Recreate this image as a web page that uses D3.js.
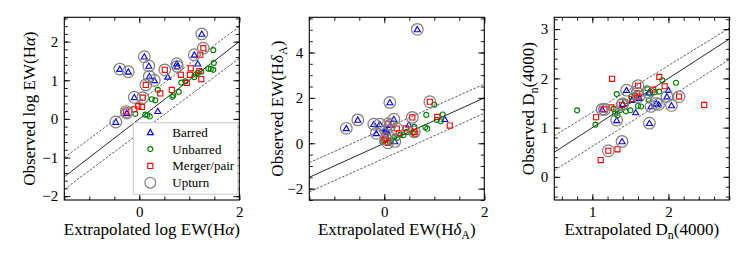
<!DOCTYPE html>
<html>
<head>
<meta charset="utf-8">
<script src="https://cdn.jsdelivr.net/npm/d3@7"></script>
<style>
body { margin: 0; background: #fff; }
svg { font-family: "Liberation Serif", "DejaVu Serif", serif; }
</style>
</head>
<body>
<div id="chart"></div>
<script>
// each point: [extrapolated, observed, upturn flag]
var haBarred = [[1.25,2.20,1],[-0.47,-0.08,1],[-0.39,1.29,1],[-0.22,1.22,1],[0.10,1.61,1],[0.19,1.37,1],
    [0.20,1.10,1],[0.30,1.00,1],[-0.10,0.56,1],[-0.25,0.15,1],[0.37,0.20,0],[0.57,1.09,0],
    [0.75,1.43,1],[0.76,1.36,1],[1.10,1.66,1],[1.17,1.43,0]];
var haUnbarred = [[1.48,1.78,0],[1.49,1.45,0],[1.48,1.27,0],[1.38,1.30,0],[1.43,1.29,0],[1.24,1.22,0],
    [1.17,1.19,0],[1.10,1.08,0],[1.13,1.15,0],[0.92,0.97,0],[0.84,0.94,0],[0.79,0.70,0],[0.68,0.61,0],
    [0.66,0.57,0],[0.37,0.75,0],[0.25,0.51,0],[0.32,0.48,0],[0.12,0.11,0],[0.16,0.10,0],[0.21,0.06,0],
    [-0.08,0.13,0]];
var haMerger = [[1.28,1.83,1],[1.22,1.66,0],[0.51,1.27,1],[0.13,0.88,1],[0.07,0.55,1],[0.42,0.66,0],
    [0.65,0.75,0],[0.83,1.14,0],[0.95,0.93,0],[1.03,1.31,0],[1.01,1.14,0],[1.20,1.24,0],[1.24,1.03,0],
    [-0.10,0.25,0],[-0.02,0.33,0],[0.05,0.31,0],[-0.26,0.19,1]];

var hdBarred = [[0.66,5.02,1],[0.11,1.80,1],[-0.76,0.66,1],[-0.53,1.03,1],[-0.21,0.84,1],[-0.09,0.84,1],
    [0.19,1.06,1],[0.03,0.56,1],[-0.16,0.44,1],[0.06,0.50,0],[0.21,0.08,1],[0.49,0.82,0],[1.21,1.06,0],
    [0.12,0.80,1],[0.02,0.65,0]];
var hdUnbarred = [[1.00,1.70,0],[1.17,1.27,0],[0.84,1.25,0],[1.05,1.03,0],[1.13,0.97,0],[0.82,0.70,0],
    [0.86,0.64,0],[0.60,0.72,0],[0.45,0.50,0],[0.38,0.35,0],[0.20,0.29,0],[0.11,0.06,0],[0.14,0.14,0],
    [-0.04,0.07,0],[0.26,0.24,0],[0.57,0.46,0],[0.32,0.38,0]];
var hdMerger = [[0.91,1.83,1],[0.56,1.14,1],[1.06,1.16,0],[1.31,0.78,0],[0.08,0.86,1],[0.25,0.65,1],
    [0.43,0.66,0],[0.60,0.50,1],[0.62,0.42,0],[0.03,0.20,1],[0.00,0.15,0],[0.07,0.02,1],[0.29,0.44,0],
    [0.02,0.33,0]];

var dnBarred = [[1.45,1.76,1],[1.13,1.37,1],[1.32,1.15,1],[1.39,0.72,1],[1.75,1.09,1],[1.57,1.31,0],
    [1.77,1.43,1],[1.84,1.49,1],[1.87,1.47,1],[2.04,1.45,1],[1.98,1.63,1],[2.00,1.76,0],[1.74,1.71,1],
    [1.62,1.60,0],[1.52,1.56,0],[1.40,1.48,1]];
var dnUnbarred = [[0.80,1.35,0],[1.04,1.06,0],[1.32,1.68,0],[2.10,1.91,0],[1.92,1.96,0],[1.72,1.80,0],
    [1.88,1.73,0],[1.51,1.63,0],[1.43,1.53,0],[1.37,1.36,0],[1.44,1.33,0],[1.50,1.35,0],[1.28,1.38,0],
    [1.30,1.28,0],[1.64,1.43,0],[1.60,1.44,0],[1.56,1.66,0],[1.74,1.55,0],[1.76,1.69,0],[1.82,1.72,0],
    [1.33,1.25,0]];
var dnMerger = [[1.26,1.99,0],[1.88,2.03,0],[1.60,1.85,1],[1.80,1.77,0],[1.95,1.84,0],[2.14,1.63,1],
    [2.47,1.46,0],[1.59,1.70,1],[1.61,1.63,1],[1.52,1.58,0],[1.39,1.46,1],[1.25,1.41,0],[1.16,1.37,1],
    [1.05,1.21,0],[1.21,0.53,1],[1.33,0.56,0],[1.11,0.34,0]];

// one-to-one line and scatter band, as [slope, intercept]
var haLines = [[1, 0], [0.97, 0.45], [0.97, -0.37]];
var hdLines = [[1, 0], [0.99, 0.63], [0.99, -0.66]];
var dnLines = [[1, 0], [0.95, 0.36], [0.98, -0.36]];

var haXTicks = [0, 2], haYTicks = [-2, -1, 0, 1, 2];
var hdXTicks = [0, 2], hdYTicks = [-2, 0, 2, 4];
var dnXTicks = [1, 2], dnYTicks = [0, 1, 2, 3];

var legendLabels = ["Barred", "Unbarred", "Merger/pair", "Upturn"];

var W = 747, H = 264;
var pw = 175, ph = 182.7, panelTop = 17.3;

var svg = d3.select("#chart").append("svg")
    .attr("width", W)
    .attr("height", H);

var triangle = d3.symbol().type(d3.symbolTriangle).size(16);
var square = d3.symbol().type(d3.symbolSquare).size(26);

function minorTicks(domain, step) {
    var start = Math.ceil(domain[0] / step) * step;
    return d3.range(start, domain[1] + 1e-9, step).map(function(v) { return Math.round(v * 100) / 100; });
}

function styleAxis(sel) {
    sel.select(".domain").remove();
    sel.attr("font-family", null).attr("font-size", 15);
    sel.selectAll("line").attr("stroke", "#000").attr("stroke-width", 0.9);
    sel.selectAll("text").attr("fill", "#000");
}

function drawPanel(p) {
    var g = svg.append("g").attr("transform", "translate(" + p.left + "," + panelTop + ")");

    var x = d3.scaleLinear().domain(p.xDomain).range([0, pw]);
    var y = d3.scaleLinear().domain(p.yDomain).range([ph, 0]);
    var fmt = d3.format("d");
    var xMin = minorTicks(p.xDomain, p.xMinor), yMin = minorTicks(p.yDomain, p.yMinor);

    g.append("clipPath").attr("id", "clip" + p.id)
        .append("rect").attr("width", pw).attr("height", ph);

    // reference lines
    var lines = g.append("g").attr("clip-path", "url(#clip" + p.id + ")");
    p.lines.forEach(function(l, i) {
        lines.append("line")
            .attr("x1", x(p.xDomain[0])).attr("y1", y(l[0] * p.xDomain[0] + l[1]))
            .attr("x2", x(p.xDomain[1])).attr("y2", y(l[0] * p.xDomain[1] + l[1]))
            .attr("stroke", i == 0 ? "#111" : "#333")
            .attr("stroke-width", i == 0 ? 0.9 : 0.8)
            .attr("stroke-dasharray", i == 0 ? null : "2.5,1.5");
    });

    // axes, ticks pointing in
    g.append("g").attr("transform", "translate(0," + ph + ")")
        .call(d3.axisBottom(x).tickValues(xMin).tickSize(-3.5).tickFormat("")).call(styleAxis);
    g.append("g").attr("transform", "translate(0," + ph + ")")
        .call(d3.axisBottom(x).tickValues(p.xTicks).tickSize(-6).tickPadding(6).tickFormat(fmt)).call(styleAxis);
    g.append("g").call(d3.axisTop(x).tickValues(xMin).tickSize(-3.5).tickFormat("")).call(styleAxis);
    g.append("g").call(d3.axisTop(x).tickValues(p.xTicks).tickSize(-6).tickFormat("")).call(styleAxis);
    g.append("g").call(d3.axisLeft(y).tickValues(yMin).tickSize(-3.5).tickFormat("")).call(styleAxis);
    g.append("g").call(d3.axisLeft(y).tickValues(p.yTicks).tickSize(-6).tickPadding(6).tickFormat(fmt)).call(styleAxis);
    g.append("g").attr("transform", "translate(" + pw + ",0)")
        .call(d3.axisRight(y).tickValues(yMin).tickSize(-3.5).tickFormat("")).call(styleAxis);
    g.append("g").attr("transform", "translate(" + pw + ",0)")
        .call(d3.axisRight(y).tickValues(p.yTicks).tickSize(-6).tickFormat("")).call(styleAxis);

    g.append("rect")
        .attr("width", pw).attr("height", ph)
        .attr("fill", "none").attr("stroke", "#000").attr("stroke-width", 1.1);

    // points
    var pts = g.append("g").attr("clip-path", "url(#clip" + p.id + ")");
    pts.selectAll(".bar").data(p.barred).enter().append("path")
        .attr("d", triangle)
        .attr("transform", function(d) { return "translate(" + x(d[0]) + "," + (y(d[1]) + 0.6) + ")"; })
        .attr("fill", "none").attr("stroke", "#0000ff").attr("stroke-width", 1.1);
    pts.selectAll(".unb").data(p.unbarred).enter().append("circle")
        .attr("cx", function(d) { return x(d[0]); })
        .attr("cy", function(d) { return y(d[1]); })
        .attr("r", 2.5)
        .attr("fill", "none").attr("stroke", "#008000").attr("stroke-width", 1.1);
    pts.selectAll(".mrg").data(p.merger).enter().append("path")
        .attr("d", square)
        .attr("transform", function(d) { return "translate(" + x(d[0]) + "," + y(d[1]) + ")"; })
        .attr("fill", "none").attr("stroke", "#ff0000").attr("stroke-width", 1.1);

    var up = p.barred.concat(p.unbarred, p.merger).filter(function(d) { return d[2] == 1; });
    pts.selectAll(".up").data(up).enter().append("circle")
        .attr("cx", function(d) { return x(d[0]); })
        .attr("cy", function(d) { return y(d[1]); })
        .attr("r", 5.8)
        .attr("fill", "none").attr("stroke", "#808080").attr("stroke-width", 1.2);

    // axis labels
    var xl = svg.append("text")
        .attr("x", p.left + pw / 2).attr("y", 235)
        .attr("text-anchor", "middle").attr("font-size", 17);
    p.xLabel(xl);
    var yl = svg.append("text")
        .attr("transform", "translate(" + p.yLabelX + "," + (panelTop + ph / 2) + ") rotate(-90)")
        .attr("text-anchor", "middle").attr("font-size", 17);
    p.yLabel(yl);

    return {g: g, x: x, y: y};
}

function haLabel(prefix) {
    return function(t) {
        t.append("tspan").text(prefix + " log EW(H");
        t.append("tspan").attr("font-style", "italic").text("\u03b1");
        t.append("tspan").text(")");
    };
}
function hdLabel(prefix) {
    return function(t) {
        t.append("tspan").text(prefix + " EW(H");
        t.append("tspan").attr("font-style", "italic").text("\u03b4");
        t.append("tspan").attr("font-size", 12).attr("dy", 4).text("A");
        t.append("tspan").attr("dy", -4).text(")");
    };
}
function dnLabel(prefix) {
    return function(t) {
        t.append("tspan").text(prefix + " D");
        t.append("tspan").attr("font-size", 12).attr("dy", 4).text("n");
        t.append("tspan").attr("dy", -4).text("(4000)");
    };
}

var p1 = drawPanel({id: 1, left: 64.3, xDomain: [-1.5, 2], yDomain: [-2.1, 2.63],
    xTicks: haXTicks, yTicks: haYTicks, xMinor: 0.5, yMinor: 0.2,
    barred: haBarred, unbarred: haUnbarred, merger: haMerger, lines: haLines,
    xLabel: haLabel("Extrapolated"), yLabel: haLabel("Observed"), yLabelX: 34.5});
drawPanel({id: 2, left: 309.3, xDomain: [-1.5, 2], yDomain: [-2.5, 5.55],
    xTicks: hdXTicks, yTicks: hdYTicks, xMinor: 0.5, yMinor: 0.5,
    barred: hdBarred, unbarred: hdUnbarred, merger: hdMerger, lines: hdLines,
    xLabel: hdLabel("Extrapolated"), yLabel: hdLabel("Observed"), yLabelX: 283});
drawPanel({id: 3, left: 554.3, xDomain: [0.5, 2.8], yDomain: [-0.47, 3.24],
    xTicks: dnXTicks, yTicks: dnYTicks, xMinor: 0.2, yMinor: 0.2,
    barred: dnBarred, unbarred: dnUnbarred, merger: dnMerger, lines: dnLines,
    xLabel: dnLabel("Extrapolated"), yLabel: dnLabel("Observed"), yLabelX: 533.5});

// legend in first panel
var leg = p1.g.append("g").attr("transform", "translate(69,105.4)");
leg.append("rect")
    .attr("width", 104.5).attr("height", 71.5)
    .attr("fill", "#fff").attr("stroke", "#cccccc").attr("stroke-width", 1);
legendLabels.forEach(function(label, i) {
    var row = leg.append("g").attr("transform", "translate(17," + (9.6 + i * 16.8) + ")");
    if (i == 0) row.append("path").attr("d", triangle).attr("transform", "translate(0,0.6)")
        .attr("fill", "none").attr("stroke", "#0000ff").attr("stroke-width", 1.1);
    if (i == 1) row.append("circle").attr("r", 2.5)
        .attr("fill", "none").attr("stroke", "#008000").attr("stroke-width", 1.1);
    if (i == 2) row.append("path").attr("d", square)
        .attr("fill", "none").attr("stroke", "#ff0000").attr("stroke-width", 1.1);
    if (i == 3) row.append("circle").attr("r", 5.4)
        .attr("fill", "none").attr("stroke", "#808080").attr("stroke-width", 1.2);
    row.append("text").attr("x", 22).attr("y", 4.5).attr("font-size", 13).text(label);
});
</script>
</body>
</html>
